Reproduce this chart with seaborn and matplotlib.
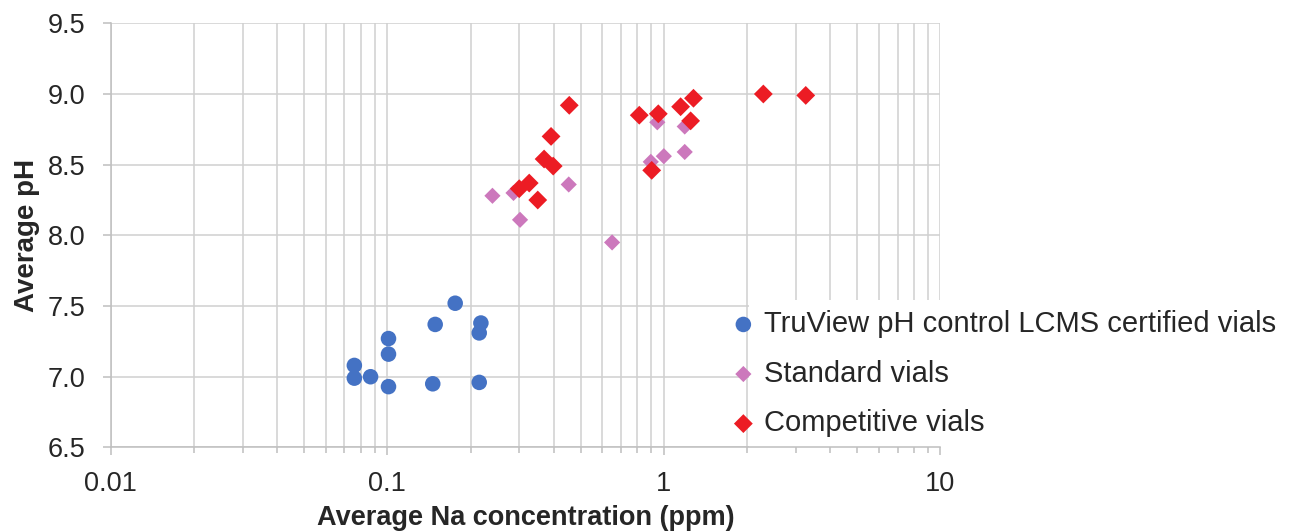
import numpy as np
import pandas as pd
import matplotlib
matplotlib.use("Agg")
import matplotlib.pyplot as plt
import matplotlib.ticker as mticker
from matplotlib.patches import Rectangle
from matplotlib.transforms import blended_transform_factory
import seaborn as sns

# TruView pH control LCMS certified vials
truview_na = [0.076, 0.076, 0.087, 0.101, 0.101, 0.101, 0.149, 0.146, 0.176, 0.218, 0.215, 0.215]
truview_ph = [7.08, 6.99, 7.00, 7.27, 7.16, 6.93, 7.37, 6.95, 7.52, 7.38, 7.31, 6.96]

# Standard vials
standard_na = [0.240, 0.286, 0.302, 0.453, 0.650, 0.947, 0.897, 1.00, 1.19, 1.19]
standard_ph = [8.28, 8.30, 8.11, 8.36, 7.95, 8.80, 8.52, 8.56, 8.77, 8.59]

# Competitive vials
competitive_na = [0.455, 0.391, 0.369, 0.398, 0.326, 0.300, 0.350, 0.815, 0.955, 0.904,
                  1.15, 1.28, 1.25, 2.29, 3.26]
competitive_ph = [8.92, 8.70, 8.54, 8.49, 8.37, 8.33, 8.25, 8.85, 8.86, 8.46,
                  8.91, 8.97, 8.81, 9.00, 8.99]

series_labels = ["TruView pH control LCMS certified vials", "Standard vials", "Competitive vials"]

sns.set_theme(style="whitegrid")
plt.rcParams['font.family'] = ['Liberation Sans', 'DejaVu Sans']
txt = "#262626"
grid_c = "#D0D0D0"

fig = plt.figure(figsize=(12.91, 5.31), dpi=100)
ax = fig.add_axes([0.0858, 0.1574, 0.6426, 0.7987])

sns.scatterplot(x=truview_na, y=truview_ph, ax=ax, marker="o", s=125,
                color="#4472C4", edgecolor="none", label=series_labels[0], zorder=3)
sns.scatterplot(x=standard_na, y=standard_ph, ax=ax, marker="D", s=68,
                color="#CC78BC", edgecolor="none", label=series_labels[1], zorder=3)
sns.scatterplot(x=competitive_na, y=competitive_ph, ax=ax, marker="D", s=92,
                color="#EC1C24", edgecolor="none", label=series_labels[2], zorder=4)

ax.set_xscale("log")
ax.set_xlim(0.01, 10)
ax.set_ylim(6.5, 9.5)
ax.set_yticks(np.arange(6.5, 9.51, 0.5))
ax.yaxis.set_major_formatter(mticker.FormatStrFormatter("%.1f"))
ax.xaxis.set_major_locator(mticker.FixedLocator([0.01, 0.1, 1, 10]))
ax.xaxis.set_major_formatter(mticker.FixedFormatter(["0.01", "0.1", "1", "10"]))
ax.xaxis.set_minor_locator(mticker.LogLocator(base=10, subs=np.arange(2, 10)))
ax.xaxis.set_minor_formatter(mticker.NullFormatter())

ax.grid(True, which="major", color=grid_c, linewidth=1.1)
ax.grid(True, which="minor", axis="x", color=grid_c, linewidth=1.1)
ax.set_axisbelow(True)

for s in ["top", "right"]:
    ax.spines[s].set_visible(False)
for s in ["left", "bottom"]:
    ax.spines[s].set_color("#BFBFBF")
    ax.spines[s].set_linewidth(1.1)

ax.tick_params(axis="both", which="major", labelsize=19.5, colors="#BFBFBF",
               labelcolor=txt, length=6, width=1.1, direction="out")
ax.tick_params(axis="x", which="major", pad=11, bottom=True)
ax.tick_params(axis="x", which="minor", bottom=True, length=4, width=1.1,
               color="#BFBFBF", direction="out")
ax.tick_params(axis="y", which="major", pad=12, left=True)

ax.set_xlabel("Average Na concentration (ppm)", fontsize=19.5, fontweight="bold",
              color=txt, labelpad=6)
ax.set_ylabel("Average pH", fontsize=20, fontweight="bold", color=txt, labelpad=6)

# white background behind legend covers the gridlines there
trans = blended_transform_factory(ax.transData, ax.transAxes)
ax.add_patch(Rectangle((2.04, 0.0), 20, 0.348, transform=trans, facecolor="white",
                       edgecolor="none", zorder=1, clip_on=True))

handles, labels = ax.get_legend_handles_labels()
ax.legend_.remove()
leg = fig.legend(handles, labels, loc="upper left", bbox_to_anchor=(0.5645, 0.416),
                 frameon=False, fontsize=21, handlelength=1.0, handletextpad=0.2,
                 borderpad=0, borderaxespad=0, labelspacing=0.74, markerscale=1.0)
for t in leg.get_texts():
    t.set_color(txt)

fig.savefig("out.png", dpi=100)
